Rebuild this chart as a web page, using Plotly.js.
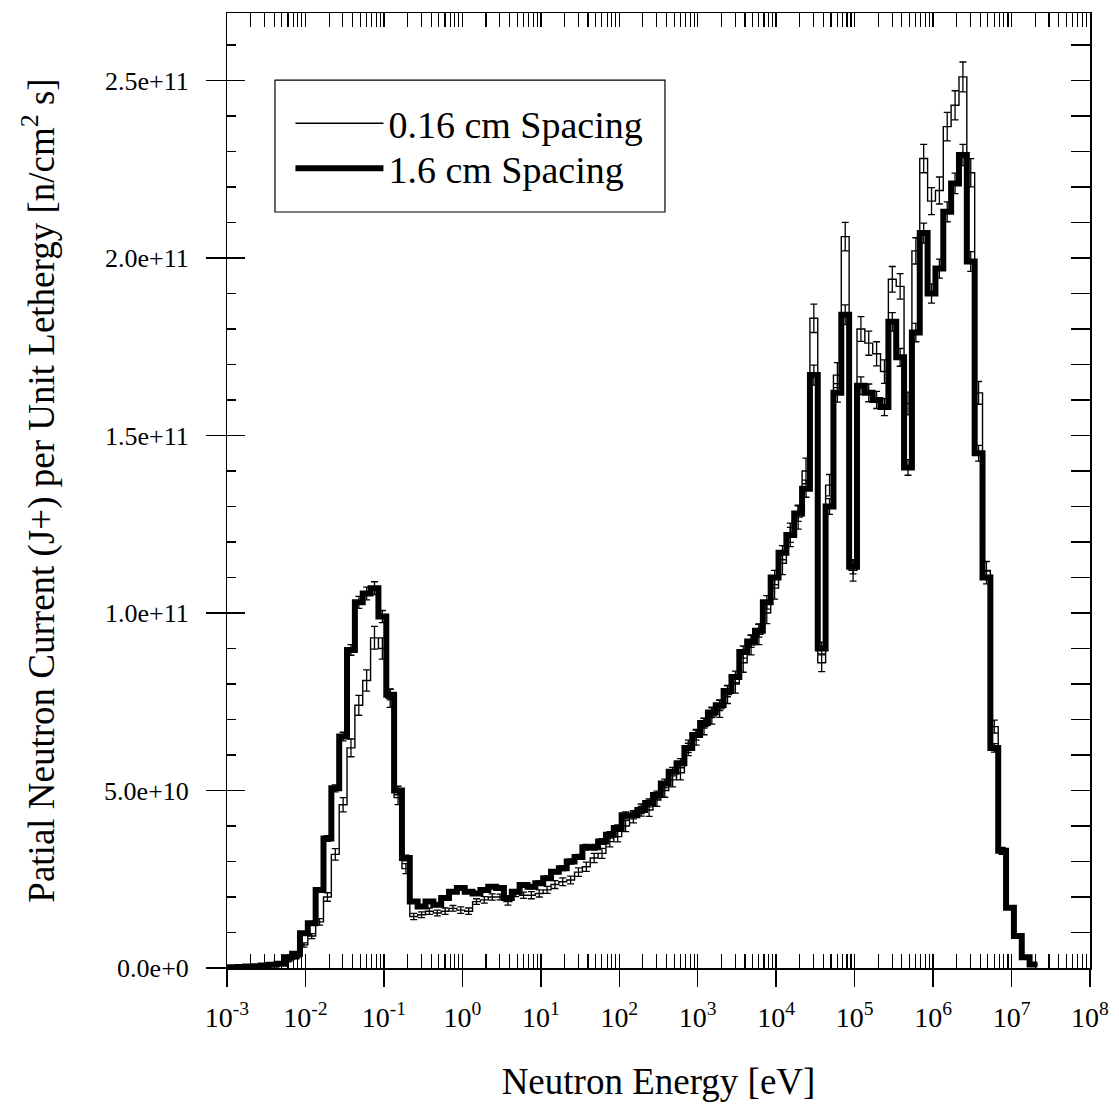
<!DOCTYPE html>
<html>
<head>
<meta charset="utf-8">
<script src="https://cdn.plot.ly/plotly-3.0.1.min.js"></script>
<style>
html,body{margin:0;padding:0;background:#fff;}
#chart{width:1119px;height:1110px;}
</style>
</head>
<body>
<div id="chart"></div>
<script>
// Energy group boundaries [eV]
var binEdges = [
  1.000e-3,
  1.072e-3,1.349e-3,1.698e-3,2.138e-3,2.692e-3,3.388e-3,4.266e-3,5.370e-3,6.761e-3,8.511e-3,
  1.072e-2,1.349e-2,1.698e-2,2.138e-2,2.692e-2,3.388e-2,4.266e-2,5.370e-2,6.761e-2,8.511e-2,
  1.072e-1,1.349e-1,1.698e-1,2.138e-1,2.692e-1,3.388e-1,4.266e-1,5.370e-1,6.761e-1,8.511e-1,
  1.072e0,1.349e0,1.698e0,2.138e0,2.692e0,3.388e0,4.266e0,5.370e0,6.761e0,8.511e0,
  1.072e1,1.349e1,1.698e1,2.138e1,2.692e1,3.388e1,4.266e1,5.370e1,6.761e1,8.511e1,
  1.072e2,1.349e2,1.698e2,2.138e2,2.692e2,3.388e2,4.266e2,5.370e2,6.761e2,8.511e2,
  1.072e3,1.349e3,1.698e3,2.138e3,2.692e3,3.388e3,4.266e3,5.370e3,6.761e3,8.511e3,
  1.072e4,1.349e4,1.698e4,2.138e4,2.692e4,3.388e4,4.266e4,5.370e4,6.761e4,8.511e4,
  1.072e5,1.349e5,1.698e5,2.138e5,2.692e5,3.388e5,4.266e5,5.370e5,6.761e5,8.511e5,
  1.072e6,1.349e6,1.698e6,2.138e6,2.692e6,3.388e6,4.266e6,5.370e6,6.761e6,8.511e6,
  1.072e7,1.349e7,1.698e7,2.138e7
];

// J+ per unit lethargy, in units of 1e11 n/cm^2 s
var thinSpacing = [ // 0.16 cm spacing
  0.001,0.001,0.002,0.003,0.004,0.006,0.008,0.010,0.020,0.030,
  0.065,0.090,0.130,0.200,0.320,0.460,0.620,0.740,0.810,0.930,
  0.900,0.760,0.480,0.280,0.145,0.150,0.160,0.155,0.160,0.168,
  0.163,0.160,0.187,0.192,0.200,0.200,0.187,0.210,0.205,0.205,
  0.210,0.220,0.235,0.243,0.248,0.270,0.285,0.310,0.323,0.356,
  0.370,0.400,0.426,0.445,0.445,0.473,0.500,0.530,0.550,0.620,
  0.650,0.680,0.710,0.730,0.770,0.800,0.860,0.910,0.940,1.000,
  1.070,1.140,1.220,1.270,1.400,1.830,0.860,1.360,1.670,2.060,
  1.120,1.800,1.760,1.730,1.680,1.940,1.920,1.590,2.020,2.280,
  2.160,2.190,2.370,2.430,2.510,2.240,1.620,1.120,0.680,0.330,
  0.170,0.090,0.030,0.010
];
var thinError = [
  0.001,0.001,0.001,0.001,0.001,0.001,0.001,0.002,0.003,0.004,
  0.006,0.007,0.009,0.012,0.016,0.020,0.025,0.028,0.030,0.032,
  0.030,0.026,0.020,0.014,0.009,0.008,0.009,0.008,0.009,0.008,
  0.009,0.009,0.008,0.009,0.009,0.008,0.010,0.009,0.009,0.010,
  0.010,0.010,0.011,0.011,0.011,0.012,0.013,0.013,0.014,0.015,
  0.015,0.016,0.017,0.017,0.018,0.018,0.019,0.020,0.020,0.022,
  0.022,0.023,0.023,0.024,0.025,0.026,0.027,0.028,0.029,0.030,
  0.031,0.032,0.033,0.034,0.036,0.040,0.025,0.030,0.035,0.040,
  0.030,0.035,0.034,0.034,0.033,0.036,0.036,0.032,0.037,0.040,
  0.038,0.038,0.040,0.041,0.042,0.040,0.032,0.025,0.018,0.010,
  0.005,0.003,0.001,0.001
];
var thickSpacing = [ // 1.6 cm spacing
  0.001,0.002,0.003,0.004,0.005,0.007,0.009,0.012,0.030,0.040,
  0.098,0.126,0.220,0.365,0.506,0.652,0.896,1.030,1.055,1.070,
  0.990,0.770,0.500,0.310,0.187,0.173,0.187,0.178,0.197,0.215,
  0.225,0.215,0.210,0.220,0.229,0.225,0.197,0.215,0.234,0.229,
  0.239,0.253,0.271,0.281,0.300,0.313,0.340,0.340,0.356,0.375,
  0.394,0.430,0.430,0.445,0.465,0.487,0.520,0.553,0.577,0.620,
  0.656,0.690,0.720,0.740,0.780,0.820,0.890,0.920,0.950,1.030,
  1.100,1.170,1.220,1.280,1.350,1.670,0.900,1.300,1.620,1.840,
  1.130,1.640,1.620,1.600,1.580,1.820,1.720,1.410,1.790,2.070,
  1.900,1.970,2.130,2.210,2.290,1.990,1.450,1.100,0.620,0.330,
  0.170,0.090,0.030,0.010
];
var thickError = [
  0.001,0.001,0.001,0.001,0.001,0.001,0.001,0.001,0.002,0.002,
  0.004,0.005,0.006,0.008,0.010,0.012,0.015,0.017,0.018,0.018,
  0.017,0.015,0.012,0.008,0.005,0.005,0.005,0.005,0.005,0.005,
  0.005,0.005,0.005,0.005,0.005,0.005,0.005,0.005,0.006,0.006,
  0.006,0.006,0.006,0.007,0.007,0.007,0.008,0.008,0.008,0.009,
  0.009,0.010,0.010,0.010,0.011,0.011,0.012,0.012,0.013,0.013,
  0.014,0.014,0.015,0.015,0.016,0.016,0.017,0.017,0.018,0.019,
  0.020,0.020,0.021,0.022,0.024,0.028,0.018,0.022,0.026,0.028,
  0.020,0.025,0.025,0.024,0.024,0.026,0.025,0.022,0.026,0.028,
  0.027,0.027,0.028,0.029,0.030,0.028,0.022,0.018,0.012,0.007,
  0.004,0.002,0.001,0.001
];
var seriesNames = ["0.16 cm Spacing", "1.6 cm Spacing"];
var xTickVals = [1e-3,1e-2,1e-1,1e0,1e1,1e2,1e3,1e4,1e5,1e6,1e7,1e8];
var xTickText = ["10<sup>-3</sup>","10<sup>-2</sup>","10<sup>-1</sup>","10<sup>0</sup>","10<sup>1</sup>","10<sup>2</sup>",
                 "10<sup>3</sup>","10<sup>4</sup>","10<sup>5</sup>","10<sup>6</sup>","10<sup>7</sup>","10<sup>8</sup>"];
var yTickVals = [0, 5e10, 1e11, 1.5e11, 2e11, 2.5e11];
var yTickText = ["0.0e+0","5.0e+10","1.0e+11","1.5e+11","2.0e+11","2.5e+11"];

var UNIT = 1e11;
function stepY(vals){ var y = vals.map(function(v){return v*UNIT;}); y.push(y[y.length-1]); return y; }
function centers(edges){ var c=[]; for(var i=0;i<edges.length-1;i++){ c.push(Math.sqrt(edges[i]*edges[i+1])); } return c; }
function scale(a){ return a.map(function(v){return v*UNIT;}); }

var FONT = "Liberation Serif, Times New Roman, Times, serif";
var binCenters = centers(binEdges);

var traces = [
  { x: binEdges.slice(), y: stepY(thickSpacing), type:'scatter', mode:'lines',
    line:{shape:'hv', color:'#000', width:6}, name: seriesNames[1], legend:'legend2', hoverinfo:'skip' },
  { x: binEdges.slice(), y: stepY(thinSpacing), type:'scatter', mode:'lines',
    line:{shape:'hv', color:'#000', width:1.4}, name: seriesNames[0], legend:'legend', hoverinfo:'skip' },
  { x: binCenters, y: scale(thinSpacing), type:'scatter', mode:'markers', xaxis:'x2', yaxis:'y2',
    marker:{size:1, color:'rgba(0,0,0,0)'}, showlegend:false, hoverinfo:'skip',
    error_y:{type:'data', array: scale(thinError), visible:true, color:'#000', thickness:1.3, width:3.5} },
  { x: binCenters, y: scale(thickSpacing), type:'scatter', mode:'markers', xaxis:'x', yaxis:'y3',
    marker:{size:1, color:'rgba(0,0,0,0)'}, showlegend:false, hoverinfo:'skip',
    error_y:{type:'data', array: scale(thickError), visible:true, color:'#000', thickness:1.3, width:3.5} }
];

var XR = [-3, 8], YR = [0, 2.69e11];
var legendCommon = {xanchor:'left', yanchor:'top', bgcolor:'rgba(0,0,0,0)', borderwidth:0,
                    font:{family:FONT, size:38, color:'#000'}, itemwidth:88};
var layout = {
  width:1119, height:1110,
  margin:{l:227, r:29, t:13, b:142},
  paper_bgcolor:'#fff', plot_bgcolor:'#fff',
  font:{family:FONT, color:'#000', size:24},
  showlegend:true,
  legend: Object.assign({x:0.0735, y:0.9173}, legendCommon),
  legend2: Object.assign({x:0.0735, y:0.8702}, legendCommon),
  shapes:[{type:'rect', xref:'paper', yref:'paper', x0:0.0556, x1:0.5075, y0:0.7916, y1:0.9298,
           line:{color:'#000', width:1.2}, fillcolor:'#fff', layer:'below'}],
  xaxis:{type:'log', range:XR, showline:true, linecolor:'#000', linewidth:1.5, mirror:'allticks',
         ticks:'inside', ticklen:14, tickwidth:1.4, tickcolor:'#000', dtick:1,
         showticklabels:false, showgrid:false, zeroline:false,
         minor:{ticks:'inside', ticklen:9, tickwidth:1.1, tickcolor:'#000', dtick:'D1', showgrid:false}},
  xaxis2:{type:'log', range:XR, overlaying:'x', anchor:'y', side:'bottom',
          showline:false, showgrid:false, zeroline:false,
          ticks:'outside', ticklen:18, tickwidth:1.4, tickcolor:'#000',
          tickmode:'array', tickvals:xTickVals, ticktext:xTickText, ticklabelstandoff:6,
          tickfont:{family:FONT, size:28, color:'#000'},
          title:{text:'Neutron Energy [eV]', font:{family:FONT, size:37, color:'#000'}, standoff:36}},
  yaxis:{range:YR, showline:true, linecolor:'#000', linewidth:1.5,
         ticks:'inside', ticklen:18, tickwidth:1.4, tickcolor:'#000', dtick:5e10,
         showticklabels:false, showgrid:false, zeroline:false,
         minor:{ticks:'inside', ticklen:9, tickwidth:1.1, tickcolor:'#000', dtick:1e10, showgrid:false}},
  yaxis2:{range:YR, overlaying:'y', anchor:'x', side:'left', showline:false, showgrid:false, zeroline:false,
          ticks:'outside', ticklen:20, tickwidth:1.4, tickcolor:'#000',
          tickmode:'array', tickvals:yTickVals, ticktext:yTickText, ticklabelstandoff:12,
          tickfont:{family:FONT, size:26, color:'#000'},
          title:{text:'Patial Neutron Current (J+) per Unit Lethergy [n/cm<sup>2</sup> s]',
                 font:{family:FONT, size:37, color:'#000'}, standoff:38}},
  yaxis3:{range:YR, overlaying:'y', anchor:'x', side:'right', showline:true, linecolor:'#000', linewidth:1.5,
          showgrid:false, zeroline:false, ticks:'inside', ticklen:19, tickwidth:1.2, tickcolor:'#000',
          dtick:1e10, showticklabels:false}
};

Plotly.newPlot('chart', traces, layout, {staticPlot:true, displayModeBar:false});
</script>
</body>
</html>
